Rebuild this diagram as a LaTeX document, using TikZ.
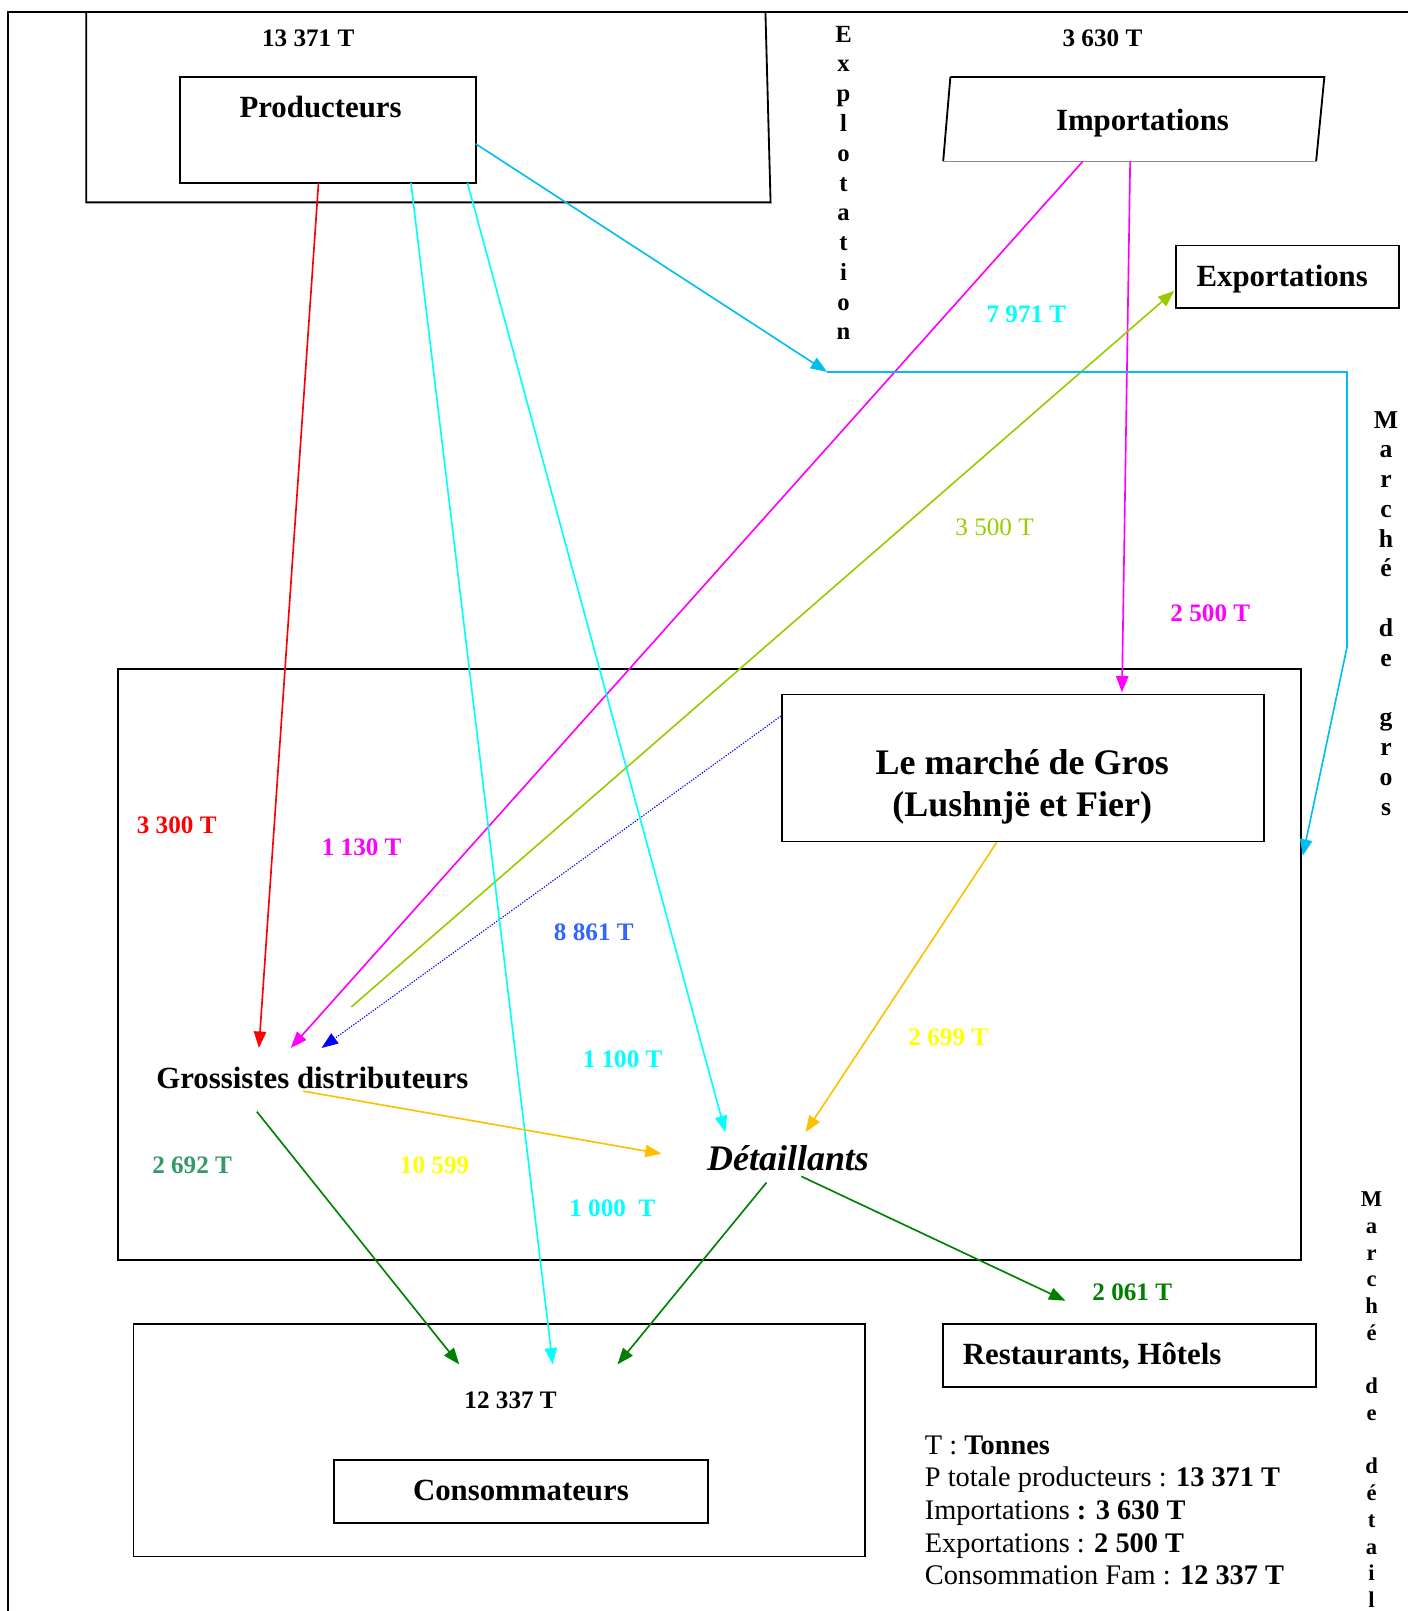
\documentclass[tikz,border=0pt]{standalone}
\usepackage{fontspec}
\setmainfont{Liberation Serif}
\usetikzlibrary{arrows.meta}
\definecolor{cRed}{RGB}{255,0,0}
\definecolor{cMag}{RGB}{255,0,255}
\definecolor{cCyan}{RGB}{0,255,255}
\definecolor{cSky}{RGB}{0,190,240}
\definecolor{cYG}{RGB}{153,204,0}
\definecolor{cBlue}{RGB}{0,0,255}
\definecolor{cBlueLbl}{RGB}{51,102,255}
\definecolor{cOrange}{RGB}{255,192,0}
\definecolor{cYellow}{RGB}{255,255,0}
\definecolor{cGreen}{RGB}{0,128,0}
\definecolor{cSea}{RGB}{51,153,102}
\begin{document}
\begin{tikzpicture}[x=1pt,y=-1pt,
  frame/.style={draw=black,line width=1.8pt},
  boxnode/.style={draw=black,line width=1.8pt,inner sep=0pt,outer sep=0pt},
  lbl/.style={font=\bfseries\fontsize{24.5}{29}\selectfont,inner sep=0pt,anchor=base},
  ttl/.style={font=\bfseries\fontsize{30}{36}\selectfont,inner sep=0pt,anchor=base},
  vt/.style={inner sep=0pt,align=center,anchor=north},
  flow/.style={line width=1.6pt,-{Triangle[length=16pt,width=12pt]}},
  plain/.style={line width=1.6pt}
]
\useasboundingbox (0,0) rectangle (1370,1568);

% outer frame and big frames
\draw[frame] (8,1568) -- (8,12) -- (1370,12);
\draw[frame] (84,12) -- (84,197) -- (750,197) -- (745,12);
\draw[frame] (925,75) -- (1289,75) -- (1281,157);
\draw[frame] (925,75) -- (918,157);
\draw[line width=1.5pt,draw=black!45] (918,157) -- (1281,157);

% boxes
\node[boxnode,minimum width=288pt,minimum height=103pt] (prodbox) at (319,126.5) {};
\node[boxnode,minimum width=217pt,minimum height=61pt] (expbox) at (1253.5,269.5) {};
\node[boxnode,minimum width=1151pt,minimum height=575pt] (midbox) at (690.5,938.5) {};
\node[boxnode,minimum width=469pt,minimum height=143pt] (marche) at (995.5,747.5) {};
\node[boxnode,minimum width=712pt,minimum height=226pt] (consout) at (486,1402) {};
\node[boxnode,minimum width=364pt,minimum height=61pt] (consbox) at (507,1451.5) {};
\node[boxnode,minimum width=363pt,minimum height=61pt] (restbox) at (1099.5,1319.5) {};

% titles
\node[lbl] (prodtot) at (300,45) {13 371 T};
\node[ttl] (prodtxt) at (312,114) {Producteurs};
\node[lbl] (imptot) at (1073,45) {3 630 T};
\node[ttl] (imptxt) at (1112,127) {Importations};
\node[ttl] (exptxt) at (1248,279) {Exportations};
\node[inner sep=0pt,align=center,font=\bfseries\fontsize{35}{41}\selectfont] (marchetxt) at (995,765.5) {Le marché de Gros\\(Lushnjë et Fier)};
\node[ttl] (gros) at (304,1059) {Grossistes distributeurs};
\node[inner sep=0pt,anchor=base,font=\bfseries\itshape\fontsize{35}{41}\selectfont] (det) at (767,1139.5) {Détaillants};
\node[ttl] (resttxt) at (1063,1328) {Restaurants, Hôtels};
\node[lbl] (constot) at (497,1371) {12 337 T};
\node[ttl] (constxt) at (507,1460) {Consommateurs};

% vertical texts
\node[vt,font=\bfseries\fontsize{24}{29}\selectfont] (exploit) at (821,25) {E\\x\\p\\l\\o\\t\\a\\t\\i\\o\\n};
\node[vt,font=\bfseries\fontsize{25}{29}\selectfont] (mgros) at (1349,400) {M\\a\\r\\c\\h\\é\\~\\d\\e\\~\\g\\r\\o\\s};
\node[vt,font=\bfseries\fontsize{22}{26}\selectfont] (mdet) at (1335,1160) {M\\a\\r\\c\\h\\é\\~\\d\\e\\~\\d\\é\\t\\a\\i\\l};

% flow labels
\node[lbl,text=cCyan] (l7971) at (999,314) {7 971 T};
\node[inner sep=0pt,anchor=base,font=\fontsize{24.5}{29}\selectfont,text=cYG] (l3500) at (968,521) {3 500 T};
\node[lbl,text=cMag] (l2500) at (1178,605) {2 500 T};
\node[lbl,text=cRed] (l3300) at (172,811) {3 300 T};
\node[lbl,text=cMag] (l1130) at (352,833) {1 130 T};
\node[lbl,text=cBlueLbl] (l8861) at (578,915) {8 861 T};
\node[lbl,text=cYellow] (l2699) at (923,1018) {2 699 T};
\node[lbl,text=cCyan] (l1100) at (606,1039) {1 100 T};
\node[lbl,text=cSea] (l2692) at (187,1142) {2 692 T};
\node[lbl,text=cYellow] (l10599) at (423,1142) {10 599};
\node[lbl,text=cCyan] (l1000) at (596,1184) {1 000~~T};
\node[lbl,text=cGreen] (l2061) at (1102,1266) {2 061 T};

% legend
\node[inner sep=0pt,align=left,anchor=north west,font=\fontsize{27.6}{31.8}\selectfont] (legend) at (900,1397)
 {T : \textbf{Tonnes}\\
  P totale producteurs : \textbf{13 371 T}\\
  Importations \textbf{: 3 630 T}\\
  Exportations : \textbf{2 500 T}\\
  Consommation Fam : \textbf{12 337 T}};

% connector end points
\coordinate (prodR) at (310,178);
\coordinate (grosR) at (252,1020);
\coordinate (impA) at (1054,157);
\coordinate (grosM) at (283,1020);
\coordinate (impB) at (1100,157);
\coordinate (marcheT) at (1092,674);
\coordinate (grosG) at (342,980);
\coordinate (expW) at (1143,283);
\coordinate (marcheW) at (760,697);
\coordinate (grosB) at (313,1020);
\coordinate (prodC1) at (400,178);
\coordinate (consC) at (538,1328);
\coordinate (prodC2) at (455,178);
\coordinate (detC) at (706,1102);
\coordinate (prodE) at (463,140);
\coordinate (explo) at (805,362);
\coordinate (r1) at (1311,362);
\coordinate (r2) at (1311,630);
\coordinate (midE) at (1268,833);
\coordinate (grosO) at (295,1062);
\coordinate (detW) at (644,1123);
\coordinate (marcheS) at (970,820);
\coordinate (detN) at (784,1102);
\coordinate (grosS) at (250,1082);
\coordinate (consL) at (447,1328);
\coordinate (detS) at (746,1151);
\coordinate (consR) at (601,1328);
\coordinate (detE) at (780,1145);
\coordinate (restN) at (1037,1266);

% connectors
\draw[flow,cRed] (prodR) -- (grosR);
\draw[flow,cMag] (impA) -- (grosM);
\draw[flow,cMag] (impB) -- (marcheT);
\draw[flow,cYG] (grosG) -- (expW);
\draw[line width=1.1pt,cBlue,dash pattern=on 1.2pt off 1.4pt,-{Triangle[length=16pt,width=12pt]}] (marcheW) -- (grosB);
\draw[flow,cCyan] (prodC1) -- (consC);
\draw[flow,cCyan] (prodC2) -- (detC);
\draw[flow,cSky] (prodE) -- (explo);
\draw[flow,cSky] (explo) -- (r1) -- (r2) -- (midE);
\draw[flow,cOrange] (grosO) -- (detW);
\draw[flow,cOrange] (marcheS) -- (detN);
\draw[flow,cGreen] (grosS) -- (consL);
\draw[flow,cGreen] (detS) -- (consR);
\draw[flow,cGreen] (detE) -- (restN);
\end{tikzpicture}
\end{document}
